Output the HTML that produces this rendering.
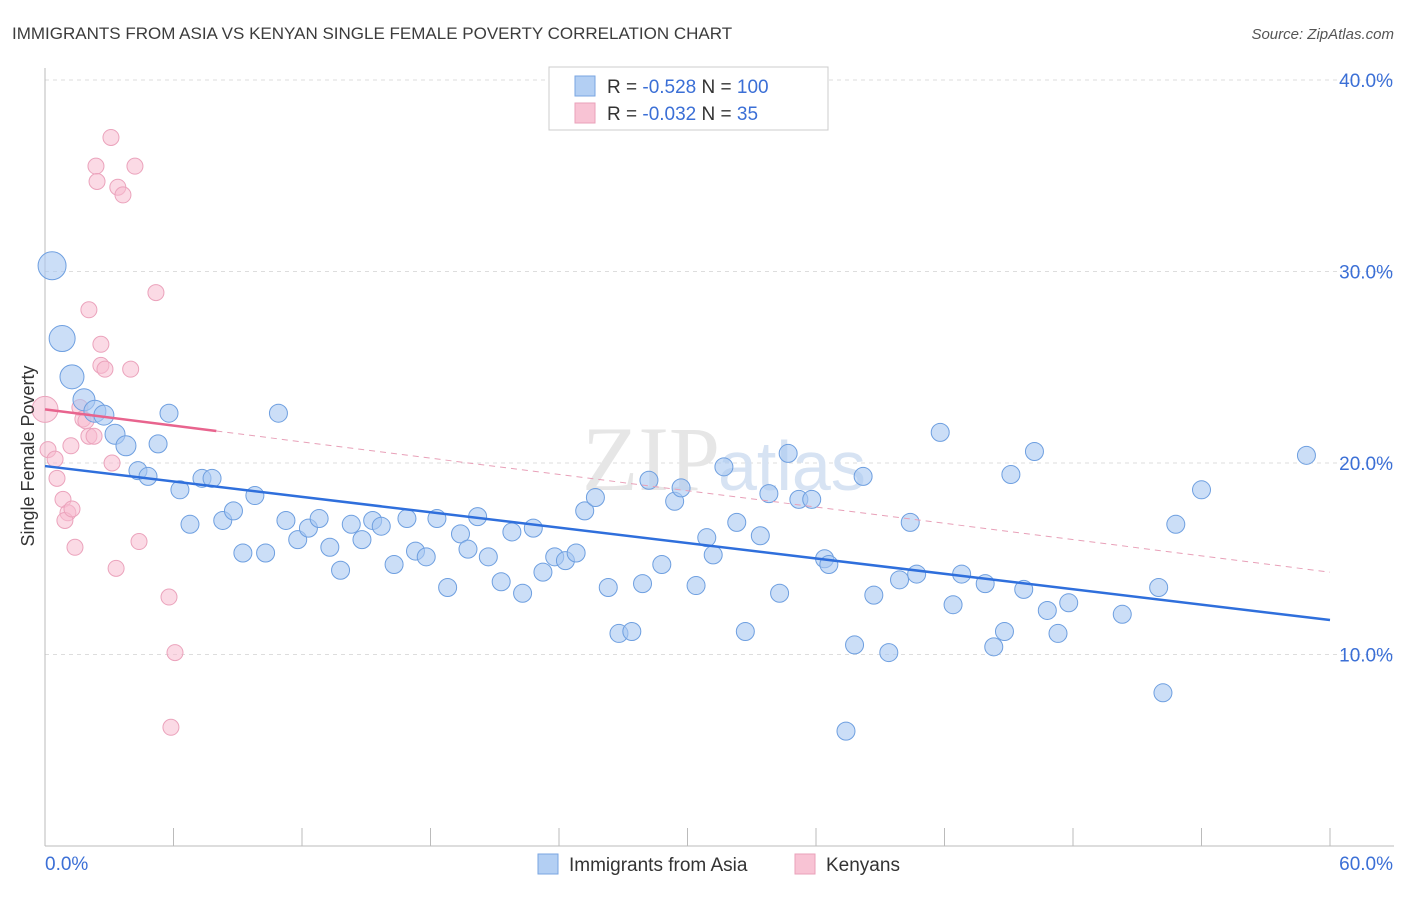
<!DOCTYPE html>
<html><head><meta charset="utf-8"><style>
body{margin:0;background:#fff;font-family:"Liberation Sans",sans-serif;}
</style></head><body>
<svg id="chart" width="1406" height="892" xmlns="http://www.w3.org/2000/svg" font-family="Liberation Sans, sans-serif">
<text x="12" y="39" font-size="17" fill="#3c3c3c">IMMIGRANTS FROM ASIA VS KENYAN SINGLE FEMALE POVERTY CORRELATION CHART</text>
<text x="1394" y="39" font-size="15" fill="#555" text-anchor="end" font-style="italic">Source: ZipAtlas.com</text>
<g id="grid"></g>
<g id="axes"></g>
<text x="720" y="490" font-size="92" fill="#e6e6e6" text-anchor="end" font-family="Liberation Serif, serif">ZIP</text>
<text x="718" y="490" font-size="70" fill="#d7e3f3">atlas</text>
<g id="pts"></g>
<g id="trend"></g>
<text transform="translate(34,456) rotate(-90)" font-size="18" fill="#333" text-anchor="middle">Single Female Poverty</text>
<g>
<rect x="549" y="67" width="279" height="63" fill="#fff" stroke="#ccc"/>
<rect x="575" y="76" width="20" height="20" fill="#b3cff3" stroke="#7aa6e2"/>
<rect x="575" y="103" width="20" height="20" fill="#f8c3d4" stroke="#eaa0ba"/>
<text x="607" y="93" font-size="19" fill="#333">R = <tspan fill="#3b6fd6">-0.528</tspan>   N = <tspan fill="#3b6fd6">100</tspan></text>
<text x="607" y="120" font-size="19" fill="#333">R = <tspan fill="#3b6fd6">-0.032</tspan>   N =   <tspan fill="#3b6fd6">35</tspan></text>
</g>
<g>
<rect x="538" y="854" width="20" height="20" fill="#b3cff3" stroke="#7aa6e2"/>
<text x="569" y="871" font-size="19" fill="#333">Immigrants from Asia</text>
<rect x="795" y="854" width="20" height="20" fill="#f8c3d4" stroke="#eaa0ba"/>
<text x="826" y="871" font-size="19" fill="#333">Kenyans</text>
</g>
</svg>
<script>
const yTicks=[10,20,30,40];
const xTickLabels=["0.0%","60.0%"];
const blueX=[0.33,0.8,1.26,1.82,2.33,2.75,3.27,3.78,4.34,4.81,5.79,5.28,6.3,6.77,7.33,7.8,8.3,8.8,9.24,9.8,10.3,10.9,11.25,11.8,12.3,12.8,13.3,13.8,14.3,14.8,15.3,15.7,16.3,16.9,17.3,17.8,18.3,18.8,19.4,19.75,20.2,20.7,21.3,21.8,22.3,22.8,23.25,23.8,24.3,24.8,25.2,25.7,26.3,26.8,27.4,27.9,28.2,28.8,29.4,29.7,30.4,30.9,31.2,31.7,32.3,32.7,33.4,33.8,34.3,34.7,35.2,35.8,36.4,36.6,37.4,37.8,38.2,38.7,39.4,39.9,40.4,40.7,41.8,42.4,42.8,43.9,44.3,44.8,45.1,45.7,46.2,46.8,47.3,47.8,50.3,52.0,52.2,52.8,54.0,58.9];
const blueY=[30.3,26.5,24.5,23.3,22.7,22.5,21.5,20.9,19.6,19.3,22.6,21.0,18.6,16.8,19.2,19.2,17.0,17.5,15.3,18.3,15.3,22.6,17.0,16.0,16.6,17.1,15.6,14.4,16.8,16.0,17.0,16.7,14.7,17.1,15.4,15.1,17.1,13.5,16.3,15.5,17.2,15.1,13.8,16.4,13.2,16.6,14.3,15.1,14.9,15.3,17.5,18.2,13.5,11.1,11.2,13.7,19.1,14.7,18.0,18.7,13.6,16.1,15.2,19.8,16.9,11.2,16.2,18.4,13.2,20.5,18.1,18.1,15.0,14.7,6.0,10.5,19.3,13.1,10.1,13.9,16.9,14.2,21.6,12.6,14.2,13.7,10.4,11.2,19.4,13.4,20.6,12.3,11.1,12.7,12.1,13.5,8.0,16.8,18.6,20.4];
const blueSize=[14,13,12,11,11,10,10,10];
const pinkX=[0,0.14,0.47,0.56,0.84,1.07,0.93,1.26,1.21,1.4,1.63,1.77,1.91,2.05,2.05,2.29,2.38,2.43,2.61,2.61,2.8,3.08,3.13,3.32,3.4,3.64,4.0,4.2,4.39,5.18,5.79,5.88,6.07];
const pinkY=[22.8,20.7,20.2,19.2,18.1,17.4,17.0,17.6,20.9,15.6,22.9,22.3,22.2,28.0,21.4,21.4,35.5,34.7,26.2,25.1,24.9,37.0,20.0,14.5,34.4,34.0,24.9,35.5,15.9,28.9,13.0,6.2,10.1];
const blueTrend=[19.84,11.8];
const pinkTrend=[22.8,21.67,14.3];
const NS="http://www.w3.org/2000/svg";
const X=v=>45+v*(1285/60), Y=v=>846-v*19.15;
function mk(t,a,p){const e=document.createElementNS(NS,t);for(const k in a)e.setAttribute(k,a[k]);p.appendChild(e);return e;}
const grid=document.getElementById('grid'),axes=document.getElementById('axes'),pts=document.getElementById('pts'),tr=document.getElementById('trend');
yTicks.forEach(t=>{
 const l=mk('line',{x1:45,x2:1394,y1:Y(t),y2:Y(t),stroke:'#ddd','stroke-dasharray':'4,4'},grid);
 
 
 const tx=mk('text',{x:1393,y:Y(t)+7,'font-size':19,fill:'#3b6fd6','text-anchor':'end'},grid);
 tx.textContent=t.toFixed(1)+'%';
 
 
});
const ax=mk('line',{x1:45,x2:45,y1:68,y2:846,stroke:'#bbb'},axes);


const bx=mk('line',{x1:45,x2:1394,y1:846,y2:846,stroke:'#bbb'},axes);


for(let i=0;i<=10;i++){const t=mk('line',{x1:X(i*6),x2:X(i*6),y1:828,y2:846,stroke:'#bbb'},axes);
 
 }
[[45,'start',0],[1393,'end',1]].forEach(([x,a,i])=>{const t=mk('text',{x:x,y:870,'font-size':19,fill:'#3b6fd6','text-anchor':a},axes);t.textContent=xTickLabels[i];
 
 });
pinkX.forEach((v,i)=>{const c=mk('circle',{cx:X(v),cy:Y(pinkY[i]),r:i==0?13:8,fill:'#f8bcd0','fill-opacity':0.55,stroke:'#eba3bc'},pts);
 
 });
blueX.forEach((v,i)=>{const c=mk('circle',{cx:X(v),cy:Y(blueY[i]),r:blueSize[i]||9,fill:'#a9c8f2','fill-opacity':0.6,stroke:'#6e9fe0'},pts);
 
 });
const b=mk('line',{x1:X(0),y1:Y(blueTrend[0]),x2:X(60),y2:Y(blueTrend[1]),stroke:'#2f6fdc','stroke-width':2.5},tr);


const p1=mk('line',{x1:X(0),y1:Y(pinkTrend[0]),x2:X(8),y2:Y(pinkTrend[1]),stroke:'#e8648e','stroke-width':2.5},tr);


const p2=mk('line',{x1:X(8),y1:Y(pinkTrend[1]),x2:X(60),y2:Y(pinkTrend[2]),stroke:'#e8a0b8','stroke-width':1,'stroke-dasharray':'6,5'},tr);


</script>
</body></html>
